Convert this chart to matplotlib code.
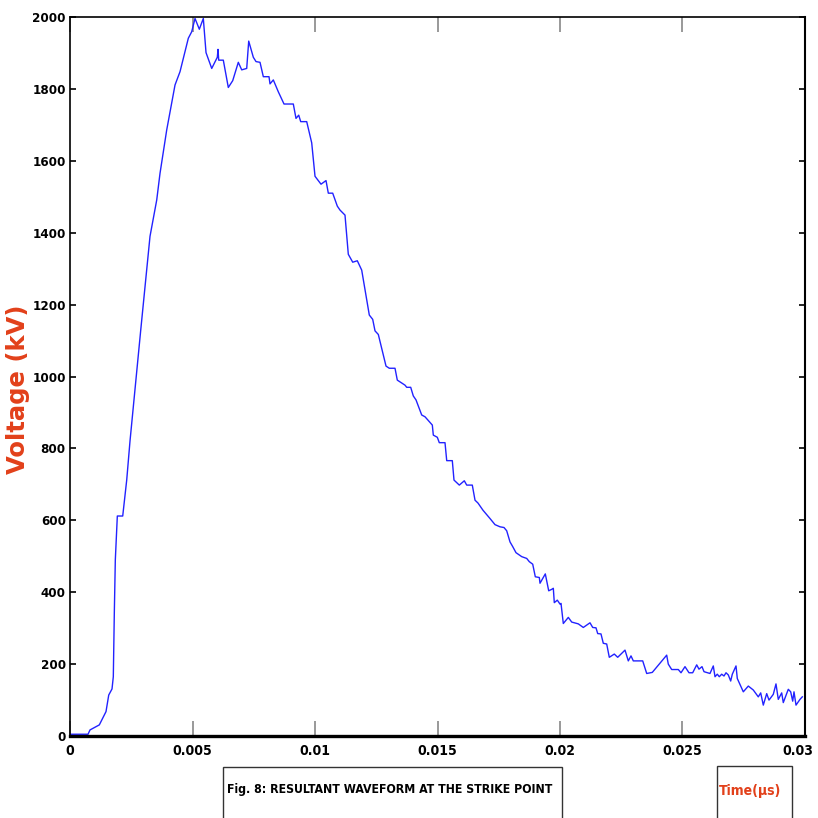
import numpy as np
import matplotlib
matplotlib.use("Agg")
import matplotlib.pyplot as plt
from matplotlib import font_manager
from matplotlib.patches import Rectangle
from matplotlib.transforms import ScaledTranslation

# waveform: time in units of 1e-3, voltage in kV
time_ms = [
    0.0, 0.135, 0.735, 0.816, 1.196, 1.469, 1.580, 1.714, 1.767, 1.808,
    1.849, 1.931, 2.151, 2.314, 2.449, 2.702, 2.886, 3.265, 3.539, 3.673,
    3.947, 4.286, 4.490, 4.829, 4.967, 5.102, 5.278, 5.441, 5.551, 5.784,
    6.012, 6.041, 6.069, 6.257, 6.461, 6.641, 6.869, 7.008, 7.212, 7.294,
    7.482, 7.592, 7.755, 7.890, 8.122, 8.163, 8.298, 8.502, 8.735, 9.114,
    9.224, 9.335, 9.416, 9.661, 9.865, 10.000, 10.245, 10.449, 10.543, 10.722,
    10.910, 11.020, 11.224, 11.359, 11.539, 11.727, 11.906, 12.041, 12.216, 12.355,
    12.449, 12.584, 12.898, 13.033, 13.265, 13.359, 13.673, 13.743, 13.906, 14.012,
    14.122, 14.355, 14.490, 14.788, 14.829, 14.992, 15.073, 15.306, 15.376, 15.604,
    15.673, 15.890, 16.094, 16.192, 16.420, 16.531, 16.653, 16.857, 17.143, 17.347,
    17.551, 17.714, 17.824, 17.959, 18.069, 18.204, 18.437, 18.641, 18.747, 18.886,
    18.992, 19.155, 19.184, 19.400, 19.539, 19.661, 19.727, 19.767, 19.890, 20.000,
    20.041, 20.135, 20.339, 20.478, 20.747, 20.951, 21.224, 21.335, 21.469, 21.539,
    21.673, 21.767, 21.906, 22.012, 22.216, 22.355, 22.653, 22.788, 22.898, 22.992,
    23.376, 23.539, 23.767, 24.355, 24.420, 24.559, 24.829, 24.939, 25.102, 25.265,
    25.416, 25.580, 25.673, 25.796, 25.878, 26.122, 26.257, 26.327, 26.420, 26.502,
    26.600, 26.694, 26.776, 26.869, 26.967, 27.033, 27.184, 27.237, 27.318, 27.482,
    27.686, 27.890, 28.094, 28.192, 28.298, 28.437, 28.531, 28.706, 28.816, 28.910,
    29.049, 29.114, 29.318, 29.416, 29.498, 29.551, 29.633, 29.796, 29.890,
]
voltage_kv = [
    5, 5, 5, 17, 31, 68, 114, 131, 165, 342,
    490, 612, 612, 712, 821, 1000, 1129, 1390, 1491, 1565,
    1686, 1811, 1848, 1941, 1959, 1996, 1966, 1996, 1901, 1857,
    1888, 1910, 1880, 1880, 1804, 1823, 1874, 1853, 1857, 1933,
    1888, 1876, 1874, 1834, 1834, 1814, 1825, 1792, 1758, 1758,
    1718, 1727, 1709, 1709, 1650, 1557, 1535, 1545, 1510, 1510,
    1474, 1463, 1449, 1340, 1318, 1322, 1296, 1241, 1171, 1159,
    1127, 1117, 1029, 1023, 1023, 990, 976, 970, 970, 946,
    935, 893, 888, 865, 837, 831, 816, 816, 766, 766,
    712, 698, 710, 698, 698, 656, 648, 628, 605, 588,
    582, 580, 571, 540, 527, 510, 499, 494, 485, 478,
    443, 441, 425, 451, 404, 408, 411, 371, 378, 367,
    369, 313, 330, 317, 312, 302, 315, 302, 301, 285,
    284, 258, 256, 219, 228, 219, 239, 209, 223, 209,
    209, 174, 177, 225, 200, 185, 185, 176, 193, 176,
    176, 198, 186, 193, 179, 174, 195, 165, 172, 165,
    172, 167, 176, 170, 153, 172, 195, 160, 148, 123,
    139, 128, 109, 120, 86, 118, 100, 116, 145, 102,
    120, 93, 130, 123, 97, 123, 86, 102, 109,
]

x_ticks = [0, 0.005, 0.01, 0.015, 0.02, 0.025, 0.03]
x_tick_labels = ["0", "0.005", "0.01", "0.015", "0.02", "0.025", "0.03"]
y_ticks = list(range(0, 2001, 200))

caption = "Fig. 8: RESULTANT WAVEFORM AT THE STRIKE POINT"
x_label = "Time(\u03bcs)"
y_label = "Voltage (kV)"

RED = "#e2401a"


def narrow_font():
    """Pick a condensed bold face if the system has one."""
    names = {f.name for f in font_manager.fontManager.ttflist}
    for name in ["Liberation Sans Narrow", "DejaVu Sans Condensed"]:
        if name in names:
            return dict(family=name, fontstretch="normal")
    for f in font_manager.fontManager.ttflist:
        if f.name == "DejaVu Sans" and f.stretch == "condensed":
            return dict(family="DejaVu Sans", fontstretch="condensed")
    return dict(family="DejaVu Sans", fontstretch="normal")


def fit_width(fig, txt, width_px):
    # shrink/grow a text so it spans width_px on the canvas
    r = fig.canvas.get_renderer()
    w = txt.get_window_extent(r).width
    txt.set_fontsize(txt.get_fontsize() * width_px / w)


def main():
    t = np.array(time_ms) * 1e-3
    nf = narrow_font()

    fig = plt.figure(figsize=(8.18, 8.18), dpi=100)
    ax = fig.add_axes([0.0856, 0.1002, 0.8985, 0.879])
    ax.plot(t, voltage_kv, color="#2222ff", lw=1.0)

    ax.set_xlim(0, 0.03)
    ax.set_ylim(0, 2000)
    ax.set_xticks(x_ticks)
    ax.set_xticklabels(x_tick_labels, fontweight="bold", fontsize=10, **nf)
    ax.set_yticks(y_ticks)
    ax.set_yticklabels([str(v) for v in y_ticks], fontweight="bold",
                       fontsize=9.5, **nf)

    ax.tick_params(axis="x", direction="in", length=11, width=1.2,
                   color="#888888", top=True, pad=6)
    ax.tick_params(axis="y", direction="in", length=4.5, width=1.2,
                   color="black", right=True, pad=3)

    # last x label sits on the figure edge; nudge it left to stay inside
    last = ax.get_xticklabels()[-1]
    last.set_transform(last.get_transform()
                       + ScaledTranslation(-0.07, 0, fig.dpi_scale_trans))

    ax.spines["bottom"].set_linewidth(2.4)
    ax.spines["top"].set_linewidth(1.2)
    ax.spines["left"].set_linewidth(1.2)
    ax.spines["right"].set_linewidth(1.5)

    # rotated y label, placed in figure coordinates
    fig.text(18 / 818, 1 - 389 / 818, y_label, rotation=90, color=RED,
             fontsize=17.5, fontweight="bold", family="DejaVu Sans",
             ha="center", va="center")

    # caption boxes under the axis (bottom edge runs off the figure)
    fig.add_artist(Rectangle((222.7 / 818, -0.05), (561.7 - 222.7) / 818,
                             0.05 + (818 - 766.7) / 818, transform=fig.transFigure,
                             fill=False, lw=1.0, edgecolor="#333333"))
    cap = fig.text(390 / 818, 1 - 789 / 818, caption, fontweight="bold",
                   fontsize=10, ha="center", va="center", **nf)

    fig.add_artist(Rectangle((717.3 / 818, -0.05), (792.3 - 717.3) / 818,
                             0.05 + (818 - 766) / 818, transform=fig.transFigure,
                             fill=False, lw=1.0, edgecolor="#333333"))
    xl = fig.text(750 / 818, 1 - 791 / 818, x_label, fontweight="bold",
                  fontsize=12, color=RED, ha="center", va="center", **nf)

    fit_width(fig, cap, 326)
    fit_width(fig, xl, 62)

    fig.savefig("out.png", dpi=100)


if __name__ == "__main__":
    main()
